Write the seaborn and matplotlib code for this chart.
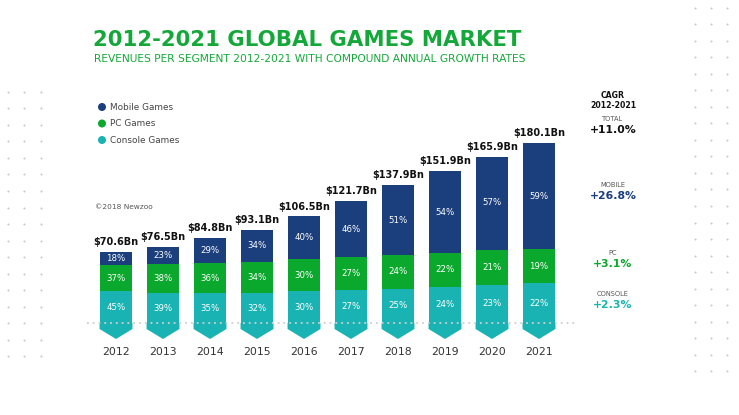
import numpy as np
import pandas as pd
import matplotlib
matplotlib.use("Agg")
import matplotlib.pyplot as plt
import seaborn as sns
from matplotlib.patches import Polygon, Circle

years = ["2012", "2013", "2014", "2015", "2016", "2017", "2018", "2019", "2020", "2021"]
totals = [70.6, 76.5, 84.8, 93.1, 106.5, 121.7, 137.9, 151.9, 165.9, 180.1]
mobile_pct = [18, 23, 29, 34, 40, 46, 51, 54, 57, 59]
pc_pct = [37, 38, 36, 34, 30, 27, 24, 22, 21, 19]
console_pct = [45, 39, 35, 32, 30, 27, 25, 24, 23, 22]
total_labels = ["$70.6Bn", "$76.5Bn", "$84.8Bn", "$93.1Bn", "$106.5Bn",
                "$121.7Bn", "$137.9Bn", "$151.9Bn", "$165.9Bn", "$180.1Bn"]
segments = ["Mobile Games", "PC Games", "Console Games"]
cagr_labels = ["TOTAL", "MOBILE", "PC", "CONSOLE"]
cagr_values = ["+11.0%", "+26.8%", "+3.1%", "+2.3%"]

C_MOBILE = "#1b3f7d"
C_PC = "#0aa82c"
C_CONSOLE = "#1ab3b3"
C_TITLE = "#14a83a"
FONT = "DejaVu Sans"

sns.set_theme(style="white")
plt.rcParams["font.family"] = [FONT]

df = pd.DataFrame({
    "year": years,
    "total": totals,
    "mobile_pct": mobile_pct,
    "pc_pct": pc_pct,
    "console_pct": console_pct,
})
df["console"] = df["total"] * df["console_pct"] / 100
df["pc"] = df["total"] * df["pc_pct"] / 100
df["mobile"] = df["total"] * df["mobile_pct"] / 100
df["console_top"] = df["console"]
df["pc_top"] = df["console"] + df["pc"]

W, H = 739, 415
fig = plt.figure(figsize=(W / 100, H / 100), dpi=100)
fig.patch.set_facecolor("white")

# overlay axes in pixel coordinates for decoration
ov = fig.add_axes([0, 0, 1, 1], zorder=0)
ov.set_xlim(0, W)
ov.set_ylim(H, 0)
ov.axis("off")

# plot axes: centers at 116 + 47*i, baseline y=323 px, 1 px per Bn
step = 47.0
x0 = 116 - 0.5 * step
x1 = 116 + 9.5 * step
ymin, ymax = -20, 200
base_px = 323
ax_bottom = H - (base_px - ymin)
ax_height = ymax - ymin
ax = fig.add_axes([x0 / W, ax_bottom / H, (x1 - x0) / W, ax_height / H], zorder=2)
ax.patch.set_alpha(0)

bw = 0.70
sns.barplot(data=df, x="year", y="total", color=C_MOBILE, width=bw,
            saturation=1, ax=ax, linewidth=0, zorder=2)
sns.barplot(data=df, x="year", y="pc_top", color=C_PC, width=bw,
            saturation=1, ax=ax, linewidth=0, zorder=3)
sns.barplot(data=df, x="year", y="console_top", color=C_CONSOLE, width=bw,
            saturation=1, ax=ax, linewidth=0, zorder=4)

ax.set_xlim(-0.5, 9.5)
ax.set_ylim(ymin, ymax)
for s in ax.spines.values():
    s.set_visible(False)
ax.set_xlabel("")
ax.set_ylabel("")
ax.set_yticks([])
ax.tick_params(axis="x", length=0, pad=3, labelsize=7.8, labelcolor="#333333")

# chevron bottoms under each bar (from bar patch geometry)
n = len(years)
for p in ax.patches[2 * n:3 * n]:
    xl = p.get_x()
    w = p.get_width()
    xc = xl + w / 2
    poly = Polygon([(xl, 0), (xl, -6), (xc, -16), (xl + w, -6), (xl + w, 0)],
                   closed=True, facecolor=C_CONSOLE, edgecolor="none", zorder=4,
                   clip_on=False)
    ax.add_patch(poly)

# dotted baseline
ax.plot([-0.62, 9.83], [0, 0], linestyle=(0, (1, 2.2)), color="#cfcfcf",
        linewidth=1.3, zorder=6, clip_on=False)

# segment percentage labels
for i, row in df.iterrows():
    ax.text(i, row["console"] / 2, f"{row['console_pct']}%", ha="center", va="center",
            color="white", fontsize=6.2, zorder=7)
    ax.text(i, row["console"] + row["pc"] / 2, f"{row['pc_pct']}%", ha="center",
            va="center", color="white", fontsize=6.2, zorder=7)
    ax.text(i, row["pc_top"] + row["mobile"] / 2, f"{row['mobile_pct']}%",
            ha="center", va="center", color="white", fontsize=6.2, zorder=7)
    ax.text(i, row["total"] + 5, total_labels[i], ha="center", va="bottom",
            color="#111111", fontsize=7, fontweight="bold", zorder=7)

# titles
ov.text(93, 40, "2012-2021 GLOBAL GAMES MARKET", ha="left", va="center",
        color=C_TITLE, fontsize=15.3, fontweight="bold")
ov.text(94, 59, "REVENUES PER SEGMENT 2012-2021 WITH COMPOUND ANNUAL GROWTH RATES",
        ha="left", va="center", color=C_TITLE, fontsize=7.65)

# legend
leg_colors = [C_MOBILE, C_PC, C_CONSOLE]
for k, (lab, col) in enumerate(zip(segments, leg_colors)):
    yy = 107 + k * 16.5
    ov.add_patch(Circle((102, yy), 4, facecolor=col, edgecolor="none"))
    ov.text(110, yy, lab, ha="left", va="center", fontsize=6.4, color="#444444")
ov.text(95, 207, "\u00a92018 Newzoo", ha="left", va="center", fontsize=5.3, color="#555555")

# CAGR column
cx = 613
ov.text(cx, 95, "CAGR", ha="center", va="center", fontsize=5.6, fontweight="bold", color="#111111")
ov.text(cx, 105, "2012-2021", ha="center", va="center", fontsize=5.6, fontweight="bold", color="#111111")
cagr_colors = ["#111111", C_MOBILE, C_PC, C_CONSOLE]
cagr_y = [119, 185, 253, 294]
for lab, val, col, yy in zip(cagr_labels, cagr_values, cagr_colors, cagr_y):
    ov.text(cx, yy, lab, ha="center", va="center", fontsize=4.8, color="#555555")
    ov.text(cx, yy + 11, val, ha="center", va="center", fontsize=7.8,
            fontweight="bold", color=col)

# decorative dot grids
ldx = np.array([8, 24, 41])
ldy = np.arange(92, 372, 16.5)
gx, gy = np.meshgrid(ldx, ldy)
ov.scatter(gx.ravel(), gy.ravel(), s=2.2, color="#c8c8c8", linewidths=0)
rdx = np.array([695, 711, 727])
rdy = np.arange(8, 372, 16.5)
gx, gy = np.meshgrid(rdx, rdy)
ov.scatter(gx.ravel(), gy.ravel(), s=2.2, color="#c8c8c8", linewidths=0)

fig.savefig("out.png", dpi=100, facecolor="white")
